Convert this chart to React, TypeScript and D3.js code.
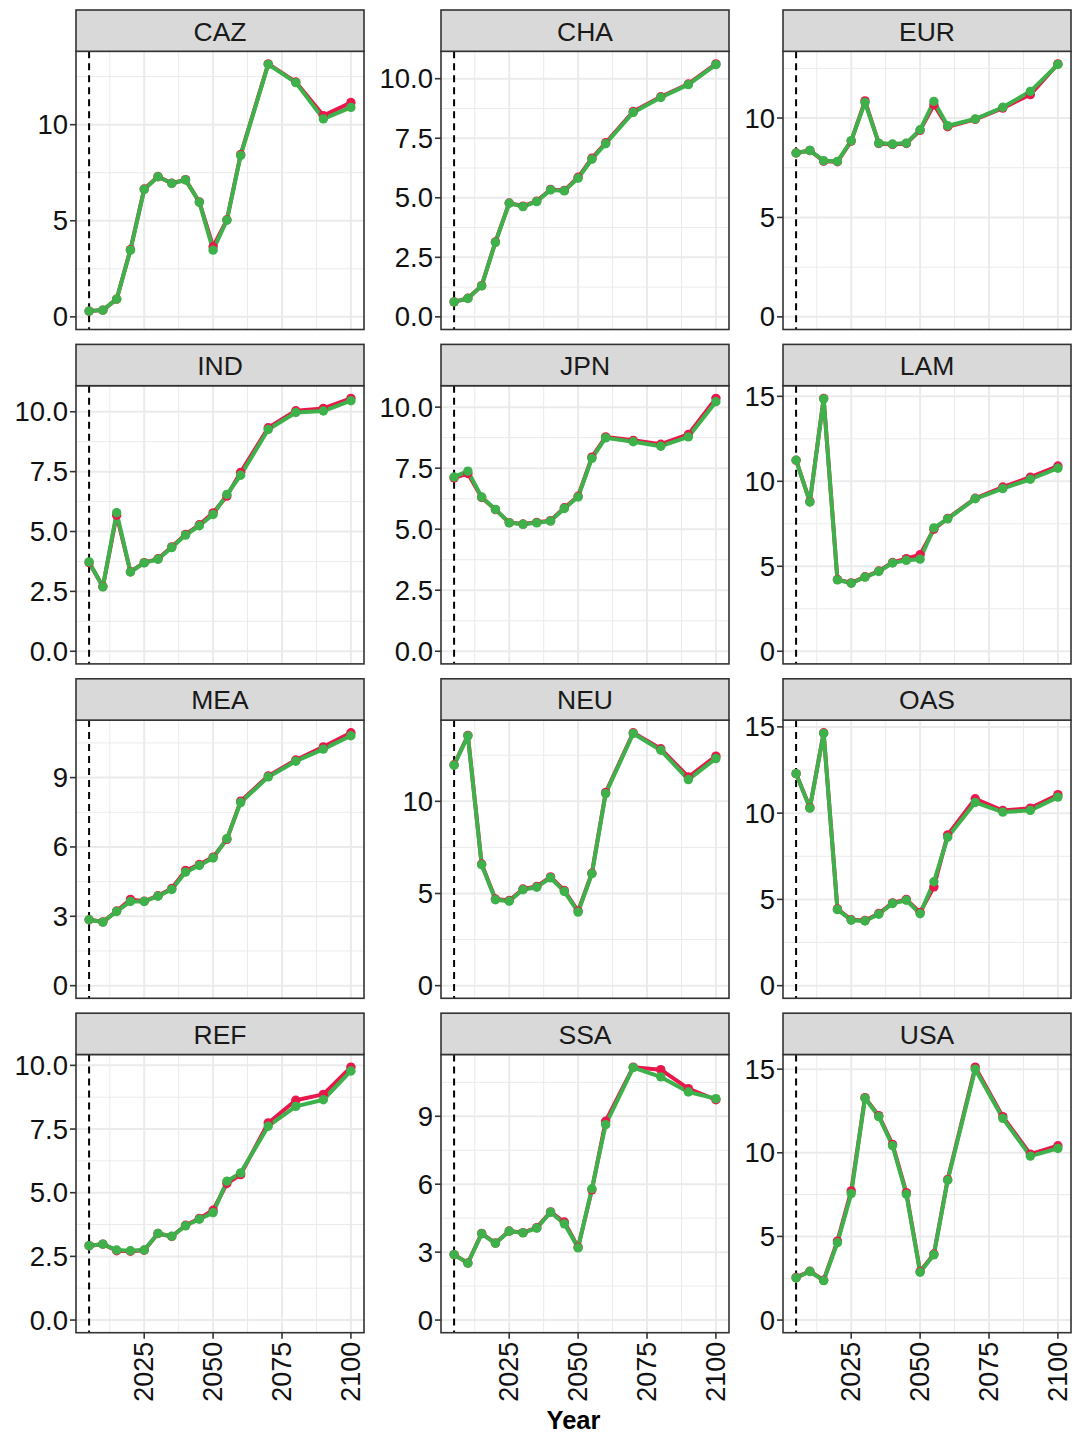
import React from "react";
import * as d3 from "d3";

const years = [2005, 2010, 2015, 2020, 2025, 2030, 2035, 2040, 2045, 2050, 2055, 2060, 2070, 2080, 2090, 2100];
const regions = ["CAZ", "CHA", "EUR", "IND", "JPN", "LAM", "MEA", "NEU", "OAS", "REF", "SSA", "USA"];
const xBreaks = [2025, 2050, 2075, 2100];
const xMinorBreaks = [2012.5, 2037.5, 2062.5, 2087.5];
const vlineYear = 2005;

const cazRed = [0.30, 0.35, 0.92, 3.50, 6.65, 7.30, 6.95, 7.14, 5.98, 3.65, 5.05, 8.45, 13.16, 12.22, 10.47, 11.15];
const cazGreen = [0.30, 0.35, 0.92, 3.47, 6.63, 7.29, 6.94, 7.12, 5.97, 3.47, 5.03, 8.40, 13.14, 12.19, 10.30, 10.90];
const chaRed = [0.63, 0.78, 1.31, 3.15, 4.78, 4.65, 4.86, 5.35, 5.31, 5.86, 6.66, 7.31, 8.62, 9.24, 9.78, 10.62];
const chaGreen = [0.63, 0.77, 1.30, 3.13, 4.77, 4.63, 4.84, 5.33, 5.29, 5.82, 6.62, 7.27, 8.58, 9.21, 9.75, 10.59];
const eurRed = [8.24, 8.37, 7.83, 7.80, 8.84, 10.86, 8.72, 8.67, 8.72, 9.38, 10.67, 9.56, 9.93, 10.50, 11.18, 12.72];
const eurGreen = [8.24, 8.37, 7.85, 7.82, 8.86, 10.78, 8.74, 8.69, 8.74, 9.41, 10.84, 9.61, 9.95, 10.54, 11.34, 12.69];
const indRed = [3.70, 2.70, 5.68, 3.32, 3.70, 3.86, 4.36, 4.88, 5.28, 5.78, 6.48, 7.47, 9.33, 10.04, 10.14, 10.56];
const indGreen = [3.73, 2.69, 5.79, 3.31, 3.69, 3.84, 4.33, 4.85, 5.24, 5.71, 6.55, 7.35, 9.26, 9.97, 10.03, 10.46];
const jpnRed = [7.10, 7.28, 6.30, 5.80, 5.27, 5.21, 5.28, 5.35, 5.88, 6.35, 7.95, 8.78, 8.64, 8.48, 8.88, 10.36];
const jpnGreen = [7.14, 7.38, 6.32, 5.81, 5.26, 5.20, 5.26, 5.33, 5.85, 6.32, 7.90, 8.74, 8.58, 8.40, 8.78, 10.22];
const lamRed = [11.24, 8.80, 14.88, 4.22, 4.02, 4.38, 4.72, 5.22, 5.45, 5.68, 7.18, 7.82, 9.00, 9.66, 10.24, 10.90];
const lamGreen = [11.24, 8.78, 14.85, 4.20, 4.00, 4.36, 4.69, 5.19, 5.35, 5.42, 7.26, 7.79, 8.97, 9.57, 10.12, 10.77];
const meaRed = [2.85, 2.76, 3.23, 3.73, 3.65, 3.89, 4.20, 4.98, 5.24, 5.56, 6.33, 7.98, 9.07, 9.76, 10.33, 10.94];
const meaGreen = [2.85, 2.75, 3.21, 3.64, 3.64, 3.87, 4.16, 4.91, 5.20, 5.52, 6.36, 7.92, 9.03, 9.71, 10.23, 10.81];
const neuRed = [11.98, 13.58, 6.60, 4.70, 4.62, 5.24, 5.38, 5.90, 5.16, 4.05, 6.10, 10.48, 13.72, 12.85, 11.32, 12.45];
const neuGreen = [11.96, 13.55, 6.56, 4.66, 4.58, 5.20, 5.34, 5.85, 5.11, 3.99, 6.07, 10.42, 13.68, 12.77, 11.18, 12.32];
const oasRed = [12.29, 10.32, 14.66, 4.45, 3.82, 3.78, 4.18, 4.80, 5.00, 4.25, 5.73, 8.74, 10.83, 10.15, 10.29, 11.07];
const oasGreen = [12.29, 10.29, 14.62, 4.41, 3.79, 3.75, 4.14, 4.76, 4.95, 4.17, 6.02, 8.60, 10.62, 10.06, 10.16, 10.93];
const refRed = [2.92, 2.98, 2.72, 2.70, 2.74, 3.40, 3.28, 3.72, 3.99, 4.31, 5.36, 5.71, 7.74, 8.63, 8.86, 9.93];
const refGreen = [2.92, 2.98, 2.75, 2.72, 2.75, 3.40, 3.29, 3.70, 3.96, 4.22, 5.45, 5.78, 7.61, 8.39, 8.65, 9.78];
const ssaRed = [2.89, 2.52, 3.83, 3.40, 3.93, 3.86, 4.08, 4.78, 4.33, 3.22, 5.75, 8.78, 11.17, 11.06, 10.22, 9.73];
const ssaGreen = [2.89, 2.51, 3.81, 3.39, 3.92, 3.85, 4.06, 4.76, 4.25, 3.19, 5.80, 8.63, 11.15, 10.74, 10.07, 9.78];
const usaRed = [2.55, 2.92, 2.38, 4.72, 7.72, 13.30, 12.22, 10.50, 7.62, 2.90, 3.95, 8.40, 15.12, 12.16, 9.92, 10.42];
const usaGreen = [2.52, 2.90, 2.36, 4.62, 7.56, 13.26, 12.16, 10.42, 7.52, 2.86, 3.90, 8.36, 15.00, 12.06, 9.80, 10.26];

const ticks5 = [0, 5, 10];
const ticks5to15 = [0, 5, 10, 15];
const ticks25 = [0, 2.5, 5, 7.5, 10];
const ticks3 = [0, 3, 6, 9];

const redSeries = [cazRed, chaRed, eurRed, indRed, jpnRed, lamRed, meaRed, neuRed, oasRed, refRed, ssaRed, usaRed];
const greenSeries = [cazGreen, chaGreen, eurGreen, indGreen, jpnGreen, lamGreen, meaGreen, neuGreen, oasGreen, refGreen, ssaGreen, usaGreen];
const yTicks = [ticks5, ticks25, ticks5, ticks25, ticks25, ticks5to15, ticks3, ticks5, ticks5to15, ticks25, ticks3, ticks5to15];
const yDecimals = [0, 1, 0, 1, 1, 0, 0, 0, 0, 1, 0, 0];

const RED = "#E8184C";
const GREEN = "#3DB24B";
const FONT = "'Liberation Sans', Arial, Helvetica, sans-serif";

const colLeft = [76, 441, 783];
const PANEL_W = 288;
const ROW0 = 10;
const ROW_PITCH = 334.4;
const STRIP_H = 41.3;
const PANEL_TOTAL = 319.5;

function Panel({ idx }: { idx: number }) {
  const col = idx % 3;
  const row = Math.floor(idx / 3);
  const left = colLeft[col];
  const right = left + PANEL_W;
  const top = ROW0 + row * ROW_PITCH;
  const pTop = top + STRIP_H;
  const pBot = top + PANEL_TOTAL;
  const red = redSeries[idx];
  const green = greenSeries[idx];
  const all = red.concat(green);
  const lo = Math.min(0, d3.min(all) as number);
  const hi = d3.max(all) as number;
  const pad = (hi - lo) * 0.05;
  const x = d3.scaleLinear().domain([2000.25, 2104.75]).range([left, right]);
  const y = d3.scaleLinear().domain([lo - pad, hi + pad]).range([pBot, pTop]);
  const ticks = yTicks[idx];
  const step = ticks[1] - ticks[0];
  const minors: number[] = [];
  for (let k = -1; k < ticks.length + 1; k++) {
    const v = ticks[0] + step * k + step / 2;
    if (v >= lo - pad && v <= hi + pad) minors.push(v);
  }
  const line = d3
    .line<number>()
    .x((_, i) => x(years[i]))
    .y((d) => y(d));
  const isBottom = row === 3;
  return (
    <g>
      <rect x={left} y={pTop} width={PANEL_W} height={pBot - pTop} fill="#ffffff" />
      {minors.map((v) => (
        <line key={"ym" + v} x1={left} x2={right} y1={y(v)} y2={y(v)} stroke="#EBEBEB" strokeWidth={1} />
      ))}
      {xMinorBreaks.map((v) => (
        <line key={"xm" + v} x1={x(v)} x2={x(v)} y1={pTop} y2={pBot} stroke="#EBEBEB" strokeWidth={1} />
      ))}
      {ticks.map((v) => (
        <line key={"yM" + v} x1={left} x2={right} y1={y(v)} y2={y(v)} stroke="#EBEBEB" strokeWidth={2} />
      ))}
      {xBreaks.map((v) => (
        <line key={"xM" + v} x1={x(v)} x2={x(v)} y1={pTop} y2={pBot} stroke="#EBEBEB" strokeWidth={2} />
      ))}
      <line x1={x(vlineYear)} x2={x(vlineYear)} y1={pTop} y2={pBot} stroke="#000" strokeWidth={2} strokeDasharray="7,5" />
      <path d={line(red) || ""} fill="none" stroke={RED} strokeWidth={4} strokeLinejoin="round" />
      <path d={line(green) || ""} fill="none" stroke={GREEN} strokeWidth={4} strokeLinejoin="round" />
      {red.map((v, i) => (
        <circle key={"r" + i} cx={x(years[i])} cy={y(v)} r={4.7} fill={RED} />
      ))}
      {green.map((v, i) => (
        <circle key={"g" + i} cx={x(years[i])} cy={y(v)} r={4.7} fill={GREEN} />
      ))}
      <rect x={left} y={pTop} width={PANEL_W} height={pBot - pTop} fill="none" stroke="#333333" strokeWidth={1.6} />
      <rect x={left} y={top} width={PANEL_W} height={STRIP_H} fill="#D9D9D9" stroke="#333333" strokeWidth={1.6} />
      <text x={left + PANEL_W / 2} y={top + STRIP_H / 2 + 1} textAnchor="middle" dominantBaseline="central" fontSize={26.5} fill="#1A1A1A" fontFamily={FONT}>
        {regions[idx]}
      </text>
      {ticks.map((v) => (
        <g key={"yt" + v}>
          <line x1={left - 6} x2={left} y1={y(v)} y2={y(v)} stroke="#333333" strokeWidth={1.6} />
          <text x={left - 8} y={y(v)} textAnchor="end" dominantBaseline="central" fontSize={27.5} fill="#111" fontFamily={FONT}>
            {v.toFixed(yDecimals[idx])}
          </text>
        </g>
      ))}
      {isBottom &&
        xBreaks.map((v) => (
          <g key={"xt" + v}>
            <line x1={x(v)} x2={x(v)} y1={pBot} y2={pBot + 6} stroke="#333333" strokeWidth={1.6} />
            <text
              transform={`translate(${x(v)},${pBot + 9}) rotate(-90)`}
              textAnchor="end"
              dominantBaseline="central"
              fontSize={27}
              fill="#111"
              fontFamily={FONT}
            >
              {v}
            </text>
          </g>
        ))}
    </g>
  );
}

export default function App() {
  return (
    <div style={{ position: "absolute", left: 0, top: 0 }}>
      <svg width={1084} height={1436} style={{ display: "block", background: "#fff" }}>
        <rect x={0} y={0} width={1084} height={1436} fill="#fff" />
        {regions.map((_, i) => (
          <Panel key={i} idx={i} />
        ))}
        <text x={573.5} y={1429} textAnchor="middle" fontSize={25.5} fontWeight="bold" fill="#000" fontFamily={FONT}>
          Year
        </text>
      </svg>
    </div>
  );
}
